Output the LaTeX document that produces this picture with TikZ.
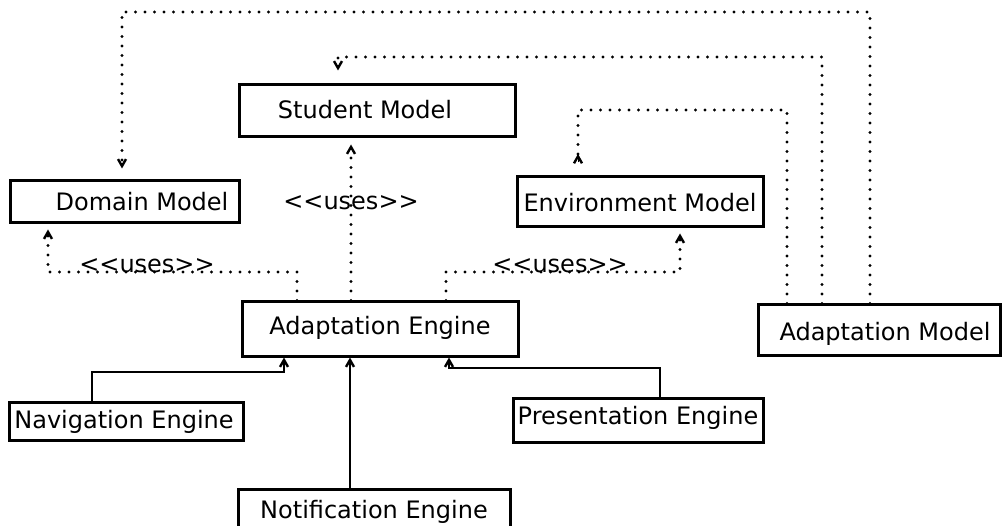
\documentclass[tikz,border=0pt]{standalone}
\usepackage{fontspec}
\setmainfont{DejaVu Sans}
\usetikzlibrary{arrows.meta}
\begin{document}
\begin{tikzpicture}[x=1pt,y=-1pt,
  box/.style={draw,line width=3pt,inner sep=0pt,fill=white},
  lbl/.style={inner sep=0pt,font=\fontsize{24}{28}\selectfont},
  tip/.style={-{Straight Barb[length=7pt,width=8pt,line width=2.4pt]}},
  rtip/.style={-{Straight Barb[reversed,length=7pt,width=8pt,line width=2.4pt]}},
  dep/.style={line width=3.2pt,dash pattern=on 0pt off 9.5pt,line cap=round},
  gen/.style={line width=2.8pt}]
\clip (0,0) rectangle (1003,526);
\fill[white] (0,0) rectangle (1003,526);
% boxes
\node[box,minimum width=276pt,minimum height=52pt] (sm) at (377,111) {};
\node[lbl] (smt) at (365,110) {Student Model};
\node[box,minimum width=229pt,minimum height=42pt] (dm) at (124.5,202) {};
\node[lbl] (dmt) at (142,202) {Domain Model};
\node[box,minimum width=246pt,minimum height=50pt] (em) at (640,202) {};
\node[lbl] (emt) at (640,203) {Environment Model};
\node[box,minimum width=276pt,minimum height=54pt] (ae) at (380,329) {};
\node[lbl] (aet) at (380,328) {Adaptation Engine};
\node[box,minimum width=242pt,minimum height=50pt] (am) at (879,330) {};
\node[lbl] (amt) at (885,334) {Adaptation Model};
\node[box,minimum width=234pt,minimum height=38pt] (nav) at (126,421) {};
\node[lbl] (navt) at (124,422) {Navigation Engine};
\node[box,minimum width=250pt,minimum height=44pt] (pres) at (638,420) {};
\node[lbl] (prest) at (638,418) {Presentation Engine};
\node[box,minimum width=272pt,minimum height=42pt] (notif) at (374,510) {};
\node[lbl] (notift) at (374,512) {Notification Engine};
% coordinates
\coordinate (a1) at (297,272); \coordinate (a1e) at (48,272);
\coordinate (a2) at (351,272);
\coordinate (a3) at (446,272); \coordinate (a3e) at (680,272);
\coordinate (t1) at (870,12); \coordinate (t1e) at (122,12);
\coordinate (t2) at (822,57); \coordinate (t2e) at (338,57);
\coordinate (t3) at (787,110); \coordinate (t3e) at (578,110);
\coordinate (n1) at (92,372); \coordinate (n1e) at (284,372);
\coordinate (p1) at (660,368); \coordinate (p1e) at (449,368);
\coordinate (c1) at (350,0);
% <<uses>> connectors
\draw[dep] (ae.north -| a1) -- (a1) -- (a1e) -- ([yshift=-9pt]dm.south -| a1e);
\draw[tip,line width=0.1pt] ([yshift=-7pt]dm.south -| a1e) -- ([yshift=-5pt]dm.south -| a1e);
\draw[dep] (ae.north -| a2) -- ([yshift=-10pt]sm.south -| a2);
\draw[tip,line width=0.1pt] ([yshift=-8pt]sm.south -| a2) -- ([yshift=-6pt]sm.south -| a2);
\draw[dep] (ae.north -| a3) -- (a3) -- (a3e) -- ([yshift=-10pt]em.south -| a3e);
\draw[tip,line width=0.1pt] ([yshift=-7pt]em.south -| a3e) -- ([yshift=-5pt]em.south -| a3e);
\node[lbl] (u1) at (147,266) {<\kern0pt<uses>\kern0pt>};
\node[lbl] (u2) at (351,203) {<\kern0pt<uses>\kern0pt>};
\node[lbl] (u3) at (560,266) {<\kern0pt<uses>\kern0pt>};
% adaptation model connectors
\draw[dep] (am.north -| t1) -- (t1) -- (t1e) -- ([yshift=15pt]dm.north -| t1e);
\draw[tip,line width=0.1pt] ([yshift=13pt]dm.north -| t1e) -- ([yshift=11pt]dm.north -| t1e);
\draw[dep] (am.north -| t2) -- (t2) -- (t2e) -- ([yshift=17pt]sm.north -| t2e);
\draw[tip,line width=0.1pt] ([yshift=15pt]sm.north -| t2e) -- ([yshift=13pt]sm.north -| t2e);
\draw[dep] (am.north -| t3) -- (t3) -- (t3e) -- ([yshift=19pt]em.north -| t3e);
\draw[rtip,line width=0.1pt] ([yshift=13pt]em.north -| t3e) -- ([yshift=11pt]em.north -| t3e);
% engines
\draw[gen,tip] (nav.north -| n1) -- (n1) -- (n1e) -- (ae.south -| n1e);
\draw[gen,tip] (notif.north -| c1) -- (ae.south -| c1);
\draw[gen,tip] (pres.north -| p1) -- (p1) -- (p1e) -- (ae.south -| p1e);
\end{tikzpicture}
\end{document}
